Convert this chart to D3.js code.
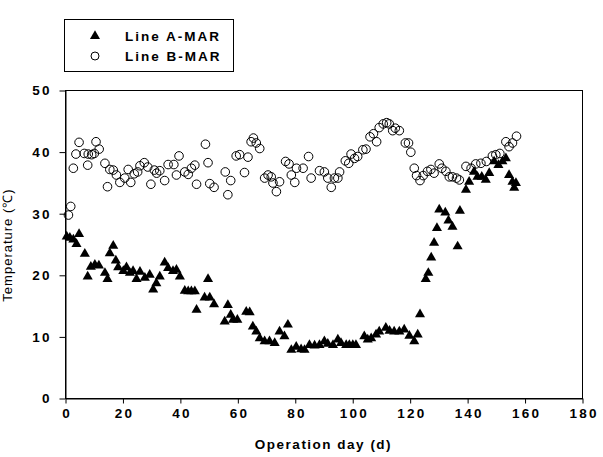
<!DOCTYPE html>
<html>
<head>
<meta charset="utf-8">
<script src="https://cdn.jsdelivr.net/npm/d3@7"></script>
<style>
  html, body { margin: 0; padding: 0; background: #fff; }
  svg { display: block; }
</style>
</head>
<body>
<svg id="chart" width="603" height="457"></svg>
<script>
// ---- data ----
const aDays = [0.6,1.7,2.9,4.0,4.9,6.9,7.9,9.0,10.4,11.8,13.9,14.8,15.6,16.8,17.7,18.5,20.3,21.4,22.6,23.7,24.9,26.1,27.8,29.5,30.7,31.8,33.0,34.7,35.9,37.6,38.8,40.0,41.7,42.9,44.0,45.2,45.8,48.6,49.8,50.4,51.9,55.6,56.7,57.7,58.5,60.0,63.1,64.3,65.4,66.6,67.8,69.5,71.2,73.0,74.7,76.4,77.6,78.8,80.5,82.2,83.4,85.1,86.9,88.6,90.3,91.5,93.3,95.0,96.1,97.9,99.0,100.2,101.3,104.2,105.4,106.6,108.3,109.4,111.7,113.0,114.6,116.4,118.1,119.9,121.6,122.8,123.6,125.6,126.5,127.5,128.5,129.5,130.3,132.4,133.5,134.9,136.7,137.5,139.6,140.7,142.4,143.6,145.1,146.5,147.7,149.4,150.9,152.3,153.5,154.6,155.8,156.4,157.0];
const aTemp = [26.2,26.0,25.7,25.0,26.6,23.4,19.7,21.3,21.6,21.5,20.3,19.3,23.5,24.7,22.3,21.2,20.6,21.2,20.3,20.6,19.3,20.5,19.5,20.0,17.6,18.6,19.7,22.0,21.1,20.6,20.8,19.7,17.4,17.3,17.3,17.3,14.3,16.3,19.3,16.3,15.2,12.4,15.1,13.5,12.7,12.7,14.0,13.9,11.6,10.8,9.7,9.2,9.2,8.9,10.8,10.0,11.9,7.8,8.3,7.9,7.8,8.6,8.5,8.6,9.2,8.8,8.6,9.5,8.9,8.6,8.6,8.6,8.6,10.0,9.5,9.7,10.3,10.8,11.4,10.9,10.8,10.8,11.1,10.1,9.2,10.3,13.6,19.3,20.3,22.8,25.2,27.6,30.6,30.1,28.8,27.8,24.6,30.4,33.8,35.1,36.7,35.9,35.9,35.4,36.5,38.4,37.8,38.4,38.9,36.2,35.1,34.1,34.9];

const bDays = [1.2,2.0,2.9,3.8,4.9,6.7,7.9,8.1,9.3,10.2,10.8,11.9,13.9,14.8,15.6,16.8,17.9,19.1,20.8,22.0,22.9,24.1,25.3,26.1,27.6,28.8,29.9,31.1,31.9,33.0,34.7,35.9,37.9,38.8,39.7,41.7,42.9,44.0,45.2,45.8,48.9,49.8,50.4,51.9,55.8,56.7,57.7,59.6,60.8,62.5,63.7,64.8,65.6,66.6,67.8,69.5,70.7,71.8,72.4,73.6,74.7,76.8,78.0,78.8,80.0,80.6,82.9,84.8,85.7,88.6,90.3,91.5,92.7,93.8,95.0,95.6,97.6,98.8,99.6,100.8,101.9,103.7,104.8,106.2,107.4,108.5,109.4,110.8,112.0,112.9,114.1,115.0,116.4,118.5,119.6,120.4,121.6,122.4,123.6,124.7,126.2,127.4,128.5,130.3,131.2,132.6,133.8,134.9,136.3,137.3,139.6,141.4,143.0,144.8,146.7,148.8,150.0,151.4,153.5,154.6,155.8,157.2];
const bTemp = [29.7,31.1,37.3,39.6,41.5,39.7,37.8,39.6,39.5,39.7,41.6,40.4,38.1,34.3,37.1,37.0,36.2,35.0,35.7,37.1,35.0,36.4,36.7,37.7,38.2,37.5,34.7,37.0,36.5,36.9,35.3,37.9,37.9,36.2,39.3,36.7,36.3,37.3,37.8,34.7,41.2,38.2,34.8,34.2,36.7,33.0,35.3,39.3,39.5,36.6,39.1,41.6,42.2,41.4,40.5,35.7,36.2,35.9,34.9,33.5,35.1,38.4,38.0,36.2,35.0,37.3,37.3,39.2,35.7,36.9,36.7,35.7,34.2,35.7,35.7,36.7,38.5,38.1,39.6,38.9,39.2,40.3,40.4,42.4,42.9,41.6,43.9,44.5,44.7,44.5,43.4,43.8,43.4,41.4,41.4,39.9,37.3,36.1,35.3,36.1,36.8,37.1,36.5,38.0,37.3,36.8,35.9,35.9,35.7,35.4,37.6,37.3,38.0,38.1,38.4,39.3,39.5,39.7,41.6,40.8,41.4,42.5];

const xTicks = [0,20,40,60,80,100,120,140,160,180];
const yTicks = [0,10,20,30,40,50];
const seriesNames = ["Line A-MAR", "Line B-MAR"];
const xTitle = "Operation day (d)";
const yTitle = "Temperature (\u2103)";

// ---- layout ----
const svg = d3.select("#chart");
const pLeft = 65, pRight = 582, pTop = 90, pBottom = 398;
const x = d3.scaleLinear().domain([0, 180]).range([pLeft, pRight]);
const y = d3.scaleLinear().domain([0, 50]).range([pBottom, pTop]);
const font = "'Liberation Sans', Arial, sans-serif";

// frame
svg.append("rect")
  .attr("x", pLeft + 0.5).attr("y", pTop + 0.5)
  .attr("width", pRight - pLeft).attr("height", pBottom - pTop)
  .attr("fill", "none").attr("stroke", "#000").attr("stroke-width", 1);

// x axis
const xAxis = svg.append("g")
  .attr("transform", `translate(0.5,${pBottom + 0.5})`)
  .call(d3.axisBottom(x).tickValues(xTicks).tickSize(5).tickSizeOuter(0).tickPadding(5));
xAxis.select(".domain").attr("stroke", "#000");
xAxis.selectAll(".tick line").attr("stroke", "#000");
xAxis.selectAll(".tick text")
  .attr("font-family", font).attr("font-size", 13.5).attr("font-weight", "bold")
  .attr("letter-spacing", "2.2px").attr("dx", "1.1px").attr("fill", "#000");

// y axis
const yAxis = svg.append("g")
  .attr("transform", `translate(${pLeft + 0.5},0.5)`)
  .call(d3.axisLeft(y).tickValues(yTicks).tickSize(6).tickSizeOuter(0).tickPadding(10));
yAxis.select(".domain").attr("stroke", "#000");
yAxis.selectAll(".tick line").attr("stroke", "#000");
yAxis.selectAll(".tick text")
  .attr("font-family", font).attr("font-size", 13.5).attr("font-weight", "bold")
  .attr("letter-spacing", "2.2px").attr("dx", "2.2px").attr("fill", "#000");

// titles
svg.append("text")
  .attr("x", (pLeft + pRight) / 2).attr("y", 449)
  .attr("text-anchor", "middle")
  .attr("font-family", font).attr("font-size", 13.5).attr("font-weight", "bold")
  .attr("letter-spacing", "1.5px")
  .text(xTitle);

svg.append("text")
  .attr("transform", `translate(12,245) rotate(-90)`)
  .attr("text-anchor", "middle")
  .attr("font-family", font).attr("font-size", 13)
  .attr("letter-spacing", "1px")
  .text(yTitle);

// marks
const tri = d3.symbol().type(d3.symbolTriangle).size(44);

svg.append("g").selectAll("circle")
  .data(d3.zip(bDays, bTemp))
  .join("circle")
  .attr("cx", d => x(d[0])).attr("cy", d => y(d[1]))
  .attr("r", 4.3)
  .attr("fill", "none").attr("stroke", "#000").attr("stroke-width", 1);

svg.append("g").selectAll("path")
  .data(d3.zip(aDays, aTemp))
  .join("path")
  .attr("d", tri)
  .attr("transform", d => `translate(${x(d[0])},${y(d[1])})`)
  .attr("fill", "#000");

// legend
const lg = svg.append("g");
lg.append("rect")
  .attr("x", 64.5).attr("y", 19.5).attr("width", 169).attr("height", 52)
  .attr("fill", "#fff").attr("stroke", "#000").attr("stroke-width", 1);
lg.append("path").attr("d", tri).attr("transform", "translate(95,36)").attr("fill", "#000");
lg.append("circle").attr("cx", 95).attr("cy", 56).attr("r", 4)
  .attr("fill", "none").attr("stroke", "#000");
lg.selectAll("text.lab")
  .data(seriesNames)
  .join("text")
  .attr("class", "lab")
  .attr("x", 125).attr("y", (d, i) => 41 + i * 20)
  .attr("font-family", font).attr("font-size", 13.5).attr("font-weight", "bold")
  .attr("letter-spacing", "2px")
  .text(d => d);
</script>
</body>
</html>
